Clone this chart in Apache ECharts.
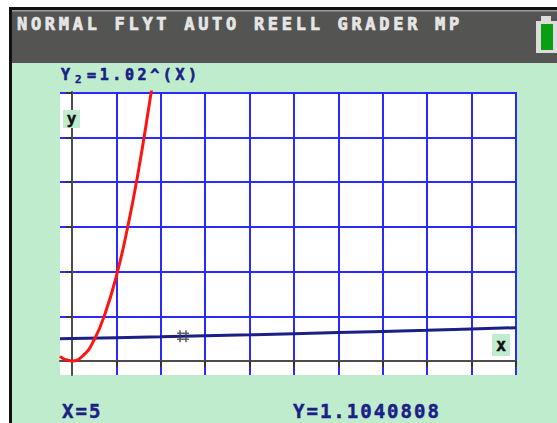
<!DOCTYPE html>
<html><head><meta charset="utf-8">
<script src="https://cdn.jsdelivr.net/npm/echarts@6/dist/echarts.min.js"></script>
<style>
html,body{margin:0;padding:0;background:#fff;}
#c{width:557px;height:423px;}
</style></head><body><div id="c"></div>
<script>
// ---- data ----
const statusText = 'NORMAL FLYT AUTO REELL GRADER MP';
const funcName = 'Y';
const funcIndex = '2';
const funcExpr = '=1.02^(X)';
const cursorXText = 'X=5';
const cursorYText = 'Y=1.1040808';
const xTicks = [2, 4, 6, 8, 10, 12, 14, 16, 18, 20];
const yTicks = [2, 4, 6, 8, 10, 12];
const xRange = [-0.54, 20];
const yRange = [-0.63, 12.04];
// red curve (Y1), estimated points
const y1X = [-0.54, -0.3, 0, 0.5, 1, 1.5, 2, 2.5, 3, 3.5, 3.62];
const y1Y = [0.2, 0.06, 0, 0.24, 0.95, 2.15, 3.8, 5.95, 8.55, 11.6, 12.4];
// navy curve (Y2 = 1.02^X), values read
const y2X = [-0.54, 0, 2, 4, 6, 8, 10, 12, 14, 16, 18, 20];
const y2Y = [0.99, 1, 1.04, 1.08, 1.13, 1.17, 1.22, 1.27, 1.32, 1.37, 1.43, 1.49];
const cursor = [5, 1.1040808];

const chart = echarts.init(document.getElementById('c'), null, {renderer: 'svg'});
const mono = "'DejaVu Sans Mono', monospace";
const navy = '#1b1f86';
const spacingByText = {};
spacingByText[statusText] = 3.7;
spacingByText[funcExpr] = 3.6;
spacingByText[cursorXText] = 2;
spacingByText[cursorYText] = 2;

const option = {
  animation: false,
  backgroundColor: '#ffffff',
  grid: {left: 60, top: 92, width: 456, height: 283, show: true, backgroundColor: '#ffffff', borderWidth: 0},
  xAxis: {
    type: 'value', min: xRange[0], max: xRange[1],
    axisLine: {onZero: true, lineStyle: {color: '#4d4d4d', width: 2}},
    axisTick: {show: true, customValues: xTicks, length: 6, lineStyle: {color: '#333', width: 2}},
    axisLabel: {show: false},
    splitLine: {show: true, lineStyle: {color: '#2a2aff', width: 2}}
  },
  yAxis: {
    type: 'value', min: yRange[0], max: yRange[1],
    axisLine: {onZero: true, lineStyle: {color: '#4d4d4d', width: 2}},
    axisTick: {show: true, customValues: yTicks, length: 6, lineStyle: {color: '#333', width: 2}},
    axisLabel: {show: false},
    splitLine: {show: true, lineStyle: {color: '#2a2aff', width: 2}}
  },
  series: [
    {type: 'line', data: y2X.map((x, i) => [x, y2Y[i]]), symbol: 'none', z: 3,
     lineStyle: {color: navy, width: 3}},
    {type: 'line', data: y1X.map((x, i) => [x, y1Y[i]]), symbol: 'none', smooth: true, z: 4,
     lineStyle: {color: '#ff1414', width: 3}},
    {type: 'scatter', data: [cursor], z: 5,
     symbol: 'path://M3,0L3,12M9,0L9,12M0,3L12,3M0,9L12,9', symbolSize: 12,
     itemStyle: {color: 'transparent', borderColor: '#3a3a3a', borderWidth: 1.6}}
  ],
  graphic: {elements: [
    {type: 'rect', z: -30, shape: {x: 9, y: 7, width: 560, height: 430}, style: {fill: '#111'}},
    {type: 'rect', z: -29, shape: {x: 12, y: 10, width: 560, height: 430}, style: {fill: '#c0ecce'}},
    {type: 'rect', z: -28, shape: {x: 12, y: 10, width: 560, height: 53}, style: {fill: '#545553'}},
    {type: 'rect', z: -27, shape: {x: 12, y: 10, width: 560, height: 1.5}, style: {fill: '#9a9a9a'}},
    // battery
    {type: 'rect', z: 50, shape: {x: 541, y: 16, width: 10, height: 6}, style: {fill: '#dcdcdc'}},
    {type: 'rect', z: 50, shape: {x: 536, y: 21, width: 22, height: 32}, style: {fill: '#dcdcdc'}},
    {type: 'rect', z: 51, shape: {x: 541, y: 24, width: 12, height: 26}, style: {fill: '#0a9e12'}},
    // status line
    {type: 'text', z: 60, x: 17, y: 24, style: {text: statusText, font: 'bold 17px ' + mono, fill: '#e6e6e6', stroke: '#e6e6e6', lineWidth: 0.7, verticalAlign: 'middle'}},
    // function label
    {type: 'text', z: 60, x: 61, y: 75, style: {text: funcName, font: 'bold 15px ' + mono, fill: navy, stroke: navy, lineWidth: 0.6, verticalAlign: 'middle'}},
    {type: 'text', z: 60, x: 75, y: 79, style: {text: funcIndex, font: 'bold 11px ' + mono, fill: navy, stroke: navy, lineWidth: 0.4, verticalAlign: 'middle'}},
    {type: 'text', z: 60, x: 87, y: 75, style: {text: funcExpr, font: 'bold 15px ' + mono, fill: navy, stroke: navy, lineWidth: 0.6, verticalAlign: 'middle'}},
    // axis name boxes
    {type: 'rect', z: 60, shape: {x: 63, y: 110, width: 17, height: 18}, style: {fill: '#c0ecce'}},
    {type: 'text', z: 61, x: 71.5, y: 118, style: {text: 'y', font: 'bold 16px ' + mono, fill: '#111', stroke: '#111', lineWidth: 0.4, align: 'center', verticalAlign: 'middle'}},
    {type: 'rect', z: 60, shape: {x: 492, y: 334, width: 18, height: 22}, style: {fill: '#c0ecce'}},
    {type: 'text', z: 61, x: 501, y: 345, style: {text: 'x', font: 'bold 17px ' + mono, fill: '#111', stroke: '#111', lineWidth: 0.4, align: 'center', verticalAlign: 'middle'}},
    // cursor readout
    {type: 'text', z: 60, x: 62, y: 411, style: {text: cursorXText, font: 'bold 19px ' + mono, fill: navy, stroke: navy, lineWidth: 0.5, verticalAlign: 'middle'}},
    {type: 'text', z: 60, x: 293, y: 411, style: {text: cursorYText, font: 'bold 19px ' + mono, fill: navy, stroke: navy, lineWidth: 0.5, verticalAlign: 'middle'}}
  ]}
};
chart.setOption(option);

function spacing() {
  document.querySelectorAll('#c text').forEach(t => {
    const ls = spacingByText[t.textContent];
    if (ls) t.style.letterSpacing = ls + 'px';
  });
}
chart.on('finished', spacing);
setTimeout(spacing, 0);
</script></body></html>
